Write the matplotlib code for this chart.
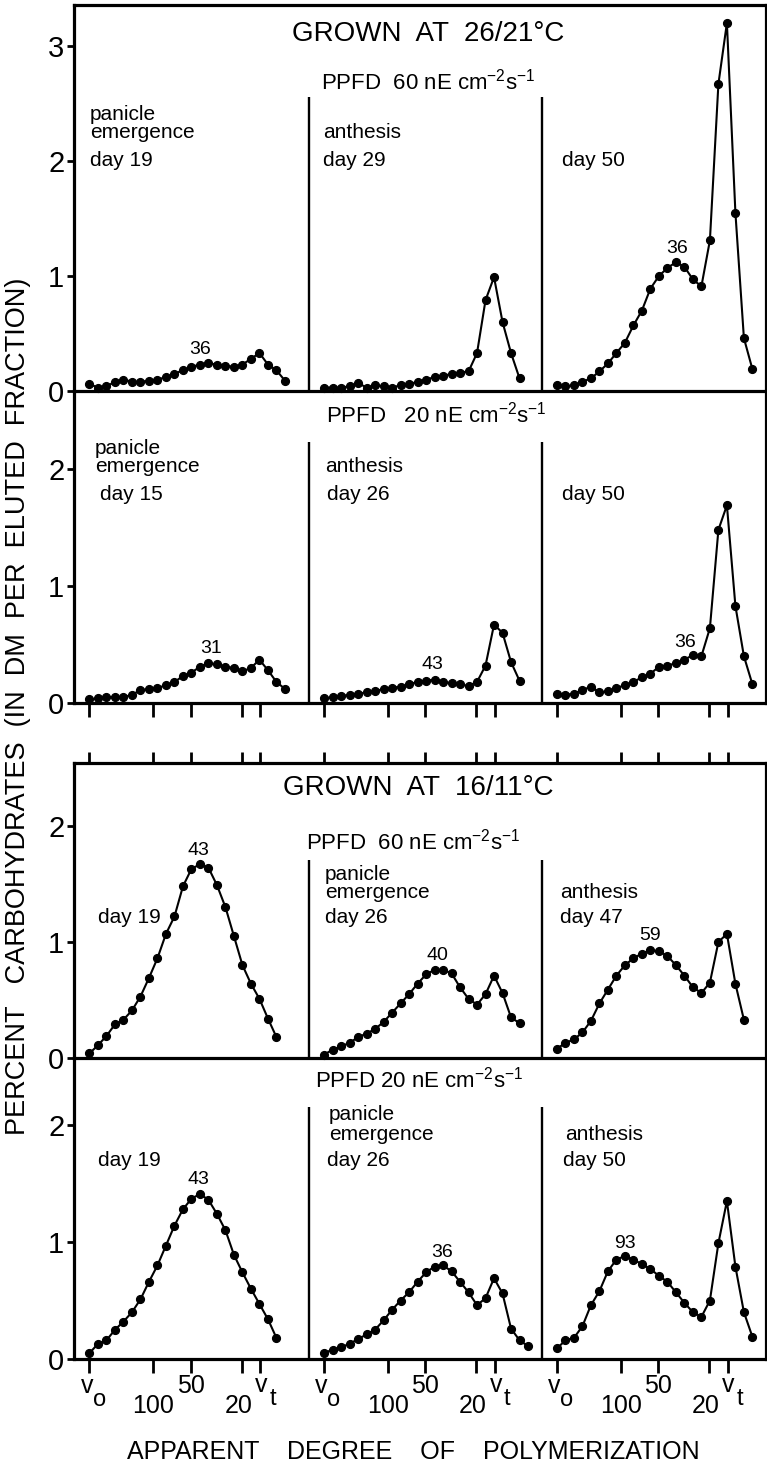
import numpy as np
import matplotlib
matplotlib.use("Agg")
import matplotlib.pyplot as plt
from matplotlib.transforms import blended_transform_factory

plt.rcParams["font.family"] = ["Liberation Sans", "DejaVu Sans"]
plt.rcParams["mathtext.default"] = "regular"

# ---------------- data (percent carbohydrates per eluted fraction) ----------------
# grown at 26/21 C, PPFD 60
r1_c1 = [0.06, 0.03, 0.04, 0.08, 0.10, 0.08, 0.08, 0.09, 0.10, 0.12, 0.15, 0.18,
         0.21, 0.23, 0.24, 0.23, 0.22, 0.21, 0.23, 0.28, 0.33, 0.23, 0.18, 0.09]
r1_c2 = [0.03, 0.03, 0.03, 0.04, 0.07, 0.03, 0.05, 0.04, 0.03, 0.05, 0.06, 0.08,
         0.10, 0.12, 0.13, 0.15, 0.16, 0.17, 0.33, 0.79, 0.99, 0.60, 0.33, 0.11]
r1_c3 = [0.05, 0.04, 0.05, 0.08, 0.11, 0.17, 0.24, 0.33, 0.42, 0.57, 0.70, 0.89,
         1.00, 1.07, 1.12, 1.08, 0.97, 0.91, 1.31, 2.67, 3.20, 1.55, 0.46, 0.19]
# grown at 26/21 C, PPFD 20
r2_c1 = [0.03, 0.04, 0.05, 0.05, 0.05, 0.07, 0.11, 0.12, 0.13, 0.15, 0.18, 0.23,
         0.26, 0.31, 0.34, 0.33, 0.31, 0.30, 0.27, 0.30, 0.37, 0.28, 0.18, 0.12]
r2_c2 = [0.04, 0.05, 0.06, 0.07, 0.08, 0.09, 0.10, 0.12, 0.13, 0.14, 0.16, 0.18,
         0.19, 0.20, 0.18, 0.17, 0.16, 0.145, 0.18, 0.32, 0.67, 0.60, 0.35, 0.19]
r2_c3 = [0.08, 0.07, 0.08, 0.11, 0.14, 0.09, 0.10, 0.13, 0.15, 0.18, 0.22, 0.25,
         0.31, 0.32, 0.34, 0.37, 0.41, 0.40, 0.64, 1.48, 1.69, 0.83, 0.40, 0.16]
# grown at 16/11 C, PPFD 60
r3_c1 = [0.04, 0.11, 0.19, 0.29, 0.33, 0.41, 0.53, 0.69, 0.86, 1.07, 1.22, 1.48,
         1.63, 1.67, 1.64, 1.49, 1.30, 1.05, 0.80, 0.64, 0.51, 0.34, 0.18]
r3_c2 = [0.03, 0.07, 0.10, 0.13, 0.18, 0.21, 0.25, 0.31, 0.39, 0.47, 0.55, 0.64,
         0.72, 0.76, 0.76, 0.73, 0.61, 0.51, 0.46, 0.55, 0.71, 0.56, 0.35, 0.30]
r3_c3 = [0.08, 0.13, 0.16, 0.22, 0.32, 0.47, 0.59, 0.71, 0.80, 0.86, 0.90, 0.93,
         0.92, 0.88, 0.80, 0.71, 0.61, 0.56, 0.65, 1.00, 1.07, 0.64, 0.33]
# grown at 16/11 C, PPFD 20
r4_c1 = [0.05, 0.13, 0.16, 0.25, 0.32, 0.40, 0.51, 0.66, 0.80, 0.97, 1.14, 1.28,
         1.37, 1.41, 1.36, 1.24, 1.10, 0.89, 0.74, 0.60, 0.47, 0.34, 0.18]
r4_c2 = [0.05, 0.08, 0.10, 0.13, 0.17, 0.21, 0.25, 0.33, 0.42, 0.50, 0.57, 0.66,
         0.74, 0.79, 0.80, 0.75, 0.66, 0.57, 0.46, 0.52, 0.69, 0.56, 0.26, 0.16, 0.11]
r4_c3 = [0.09, 0.16, 0.18, 0.28, 0.46, 0.58, 0.75, 0.85, 0.88, 0.85, 0.81, 0.77,
         0.71, 0.66, 0.57, 0.48, 0.40, 0.36, 0.50, 0.99, 1.35, 0.79, 0.40, 0.19]

series = [[r1_c1, r1_c2, r1_c3],
          [r2_c1, r2_c2, r2_c3],
          [r3_c1, r3_c2, r3_c3],
          [r4_c1, r4_c2, r4_c3]]

# peak labels: (row, col, text, fraction, value)
peak_labels = [(0, 0, "36", 13.0, 0.36), (0, 2, "36", 14.1, 1.24),
               (1, 0, "31", 14.3, 0.47), (1, 1, "43", 12.8, 0.33), (1, 2, "36", 15.1, 0.52),
               (2, 0, "43", 12.8, 1.79), (2, 1, "40", 13.3, 0.88), (2, 2, "59", 10.9, 1.06),
               (3, 0, "43", 12.8, 1.53), (3, 1, "36", 13.9, 0.91), (3, 2, "93", 8.0, 0.99)]

# x tick positions (fraction number) for V0, 100, 50, 20, Vt
tick_fracs = [0, 7.5, 11.9, 17.9, 20.1]
yticks_rows = [[0, 1, 2, 3], [0, 1, 2], [0, 1, 2], [0, 1, 2]]

# ---------------- layout ----------------
W, H = 767, 1475
fig = plt.figure(figsize=(W / 100, H / 100), dpi=100)


def P(x, y):
    return x / W, 1 - y / H


LEFT, RIGHT = 74, 766
ROW_PX = [(5, 391, 115), (391, 703, 117), (763, 1058, 116), (1058, 1359, 117)]
XMIN, XMAX = -1.82, 79.6
COL_OFF = [0.0, 27.6, 55.0]
DIV_TOP_PX = [97, 442, 860, 1107]
SPW = 2.3

axes = []
for r, (top, bot, unit) in enumerate(ROW_PX):
    x0, y0 = P(LEFT, bot)
    ax = fig.add_axes([x0, y0, (RIGHT - LEFT) / W, (bot - top) / H])
    ax.set_xlim(XMIN, XMAX)
    ymax = (bot - top) / unit
    ax.set_ylim(0, ymax)
    ax.patch.set_alpha(0)
    for s in ax.spines.values():
        s.set_linewidth(SPW)
    if r in (1, 3):
        ax.spines["top"].set_visible(False)
    ax.set_yticks(yticks_rows[r])
    ax.set_yticklabels([str(v) for v in yticks_rows[r]])
    ax.tick_params(axis="y", direction="out", length=5, width=2, labelsize=21, pad=2)
    ticks = [c + t for c in COL_OFF for t in tick_fracs]
    if r == 0:
        ax.set_xticks([])
    elif r == 2:
        ax.xaxis.tick_top()
        ax.set_xticks(ticks)
        ax.tick_params(axis="x", direction="out", length=8, width=2, labeltop=False)
    else:
        ax.set_xticks(ticks)
        ax.tick_params(axis="x", direction="out", length=10, width=2, labelbottom=False)
    # column dividers
    div_top = (bot - DIV_TOP_PX[r]) / unit
    for c in (1, 2):
        ax.vlines(COL_OFF[c] - 1.8, 0, div_top, color="black", lw=1.7)
    # data
    for c in range(3):
        vals = np.array(series[r][c])
        x = COL_OFF[c] + np.arange(len(vals))
        ax.plot(x, vals, "-o", color="black", lw=1.5, ms=5.6, clip_on=False, zorder=3)
    axes.append(ax)

for (r, c, s, fx, fy) in peak_labels:
    axes[r].text(COL_OFF[c] + fx, fy, s, ha="center", va="center", fontsize=14)

# ---------------- texts ----------------
PS = 15  # panel text size


def T(x, y, s, size=PS, ha="left", **kw):
    fig.text(*P(x, y), s, fontsize=size, ha=ha, va="center", **kw)


T(428, 34, "GROWN  AT  26/21°C", 20, "center")
T(428, 82, "PPFD  60 nE cm$^{-2}$s$^{-1}$", 16, "center")
T(90, 114, "panicle")
T(90, 132, "emergence")
T(90, 161, "day 19")
T(323, 132, "anthesis")
T(323, 161, "day 29")
T(562, 161, "day 50")

T(436, 415, "PPFD   20 nE cm$^{-2}$s$^{-1}$", 16, "center")
T(95, 449, "panicle")
T(95, 467, "emergence")
T(100, 494, "day 15")
T(325, 467, "anthesis")
T(327, 494, "day 26")
T(562, 494, "day 50")

T(418, 788, "GROWN  AT  16/11°C", 20, "center")
T(413, 842, "PPFD  60 nE cm$^{-2}$s$^{-1}$", 16, "center")
T(98, 918, "day 19")
T(325, 875, "panicle")
T(325, 892, "emergence")
T(325, 918, "day 26")
T(560, 892, "anthesis")
T(560, 918, "day 47")

T(419, 1080, "PPFD 20 nE cm$^{-2}$s$^{-1}$", 16, "center")
T(98, 1160, "day 19")
T(329, 1115, "panicle")
T(329, 1135, "emergence")
T(327, 1160, "day 26")
T(565, 1135, "anthesis")
T(563, 1160, "day 50")

# x tick labels below the bottom row
ax = axes[3]
tr = blended_transform_factory(ax.transData, fig.transFigure)
lab_size = 18
for c in COL_OFF:
    ax.text(c + tick_fracs[0] - 0.3, P(0, 1386)[1], "v", transform=tr, ha="center", va="center", fontsize=lab_size)
    ax.text(c + tick_fracs[0] + 1.15, P(0, 1400)[1], "o", transform=tr, ha="center", va="center", fontsize=lab_size - 1)
    ax.text(c + tick_fracs[1], P(0, 1406)[1], "100", transform=tr, ha="center", va="center", fontsize=lab_size)
    ax.text(c + tick_fracs[2], P(0, 1386)[1], "50", transform=tr, ha="center", va="center", fontsize=lab_size)
    ax.text(c + tick_fracs[3] - 0.4, P(0, 1406)[1], "20", transform=tr, ha="center", va="center", fontsize=lab_size)
    ax.text(c + tick_fracs[4] + 0.1, P(0, 1385)[1], "v", transform=tr, ha="center", va="center", fontsize=lab_size)
    ax.text(c + tick_fracs[4] + 1.45, P(0, 1399)[1], "t", transform=tr, ha="center", va="center", fontsize=lab_size - 1)

T(413, 1452, "APPARENT    DEGREE    OF    POLYMERIZATION", 18, "center")
fig.text(*P(18, 706), "PERCENT   CARBOHYDRATES  (IN  DM  PER  ELUTED  FRACTION)",
         rotation=90, fontsize=19.5, ha="center", va="center")

fig.savefig("out.png", dpi=100)
